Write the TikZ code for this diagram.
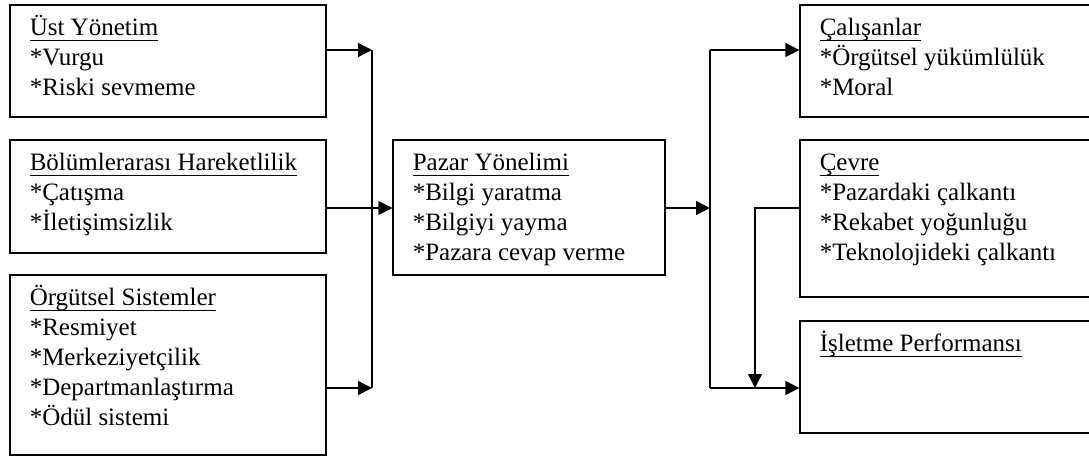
\documentclass[tikz,border=0pt]{standalone}
\usepackage{fontspec}
\setmainfont{Liberation Serif}
\usetikzlibrary{positioning,fit,arrows.meta}
\newlength{\cizgi}
\newcommand{\baslik}[1]{\settowidth{\cizgi}{#1}\rule{0pt}{10.5pt}\rlap{\rule[-2.8pt]{\cizgi}{0.7pt}}#1}

\begin{document}
\begin{tikzpicture}[x=0.5pt, y=-0.5pt,
    kutu/.style={draw, line width=0.65pt, inner sep=0pt},
    yazi/.style={anchor=north west, align=left, inner sep=0pt, xshift=10pt, yshift=-5pt,
                 font=\fontsize{12.5}{15}\selectfont},
    ok/.style={line width=0.75pt, -{Triangle[length=7pt, width=7pt]}}]
  \useasboundingbox (0,0) rectangle (1089,456);
  \clip (0,0) rectangle (1089,456);

  \node[kutu, fit={(10,5) (326,117)}]    (ust)   {};
  \node[kutu, fit={(10,140) (326,253)}]  (bolum) {};
  \node[kutu, fit={(10,275) (326,455)}]  (orgut) {};
  \node[kutu, fit={(393,140) (665,275)}] (pazar) {};
  \node[kutu, fit={(800,5) (1095,117)}]  (calis) {};
  \node[kutu, fit={(800,140) (1095,297)}] (cevre) {};
  \node[kutu, fit={(800,321) (1095,433)}] (islet) {};

  \node[yazi] (ust-y)   at (ust.north west)   {\baslik{Üst Yönetim}\\{}*Vurgu\\{}*Riski sevmeme};
  \node[yazi] (bolum-y) at (bolum.north west) {\baslik{Bölümlerarası Hareketlilik}\\{}*Çatışma\\{}*İletişimsizlik};
  \node[yazi] (orgut-y) at (orgut.north west) {\baslik{Örgütsel Sistemler}\\{}*Resmiyet\\{}*Merkeziyetçilik\\{}*Departmanlaştırma\\{}*Ödül sistemi};
  \node[yazi] (pazar-y) at (pazar.north west) {\baslik{Pazar Yönelimi}\\{}*Bilgi yaratma\\{}*Bilgiyi yayma\\{}*Pazara cevap verme};
  \node[yazi] (calis-y) at (calis.north west) {\baslik{Çalışanlar}\\{}*Örgütsel yükümlülük\\{}*Moral};
  \node[yazi] (cevre-y) at (cevre.north west) {\baslik{Çevre}\\{}*Pazardaki çalkantı\\{}*Rekabet yoğunluğu\\{}*Teknolojideki çalkantı};
  \node[yazi] (islet-y) at (islet.north west) {\baslik{İşletme Performansı}};

  \coordinate (sol-ust)  at (372,50);
  \coordinate (sol-alt)  at (372,388);
  \coordinate (sag-ust)  at (710,50);
  \coordinate (sag-orta) at (710,208);
  \coordinate (sag-alt)  at (710,388);
  \coordinate (cevre-k)  at (755,208);
  \coordinate (cevre-u)  at (755,388);

  \draw[ok] (ust.east |- sol-ust) -- (sol-ust);
  \draw[ok] (orgut.east |- sol-alt) -- (sol-alt);
  \draw[line width=0.75pt] (sol-ust) -- (sol-alt);
  \draw[ok] (bolum.east |- sag-orta) -- (pazar.west |- sag-orta);
  \draw[ok] (pazar.east |- sag-orta) -- (sag-orta);
  \draw[line width=0.75pt] (sag-ust) -- (sag-alt);
  \draw[ok] (sag-ust) -- (calis.west |- sag-ust);
  \draw[ok] (sag-alt) -- (islet.west |- sag-alt);
  \draw[ok] (cevre.west |- cevre-k) -- (cevre-k) -- (cevre-u);
\end{tikzpicture}
\end{document}
